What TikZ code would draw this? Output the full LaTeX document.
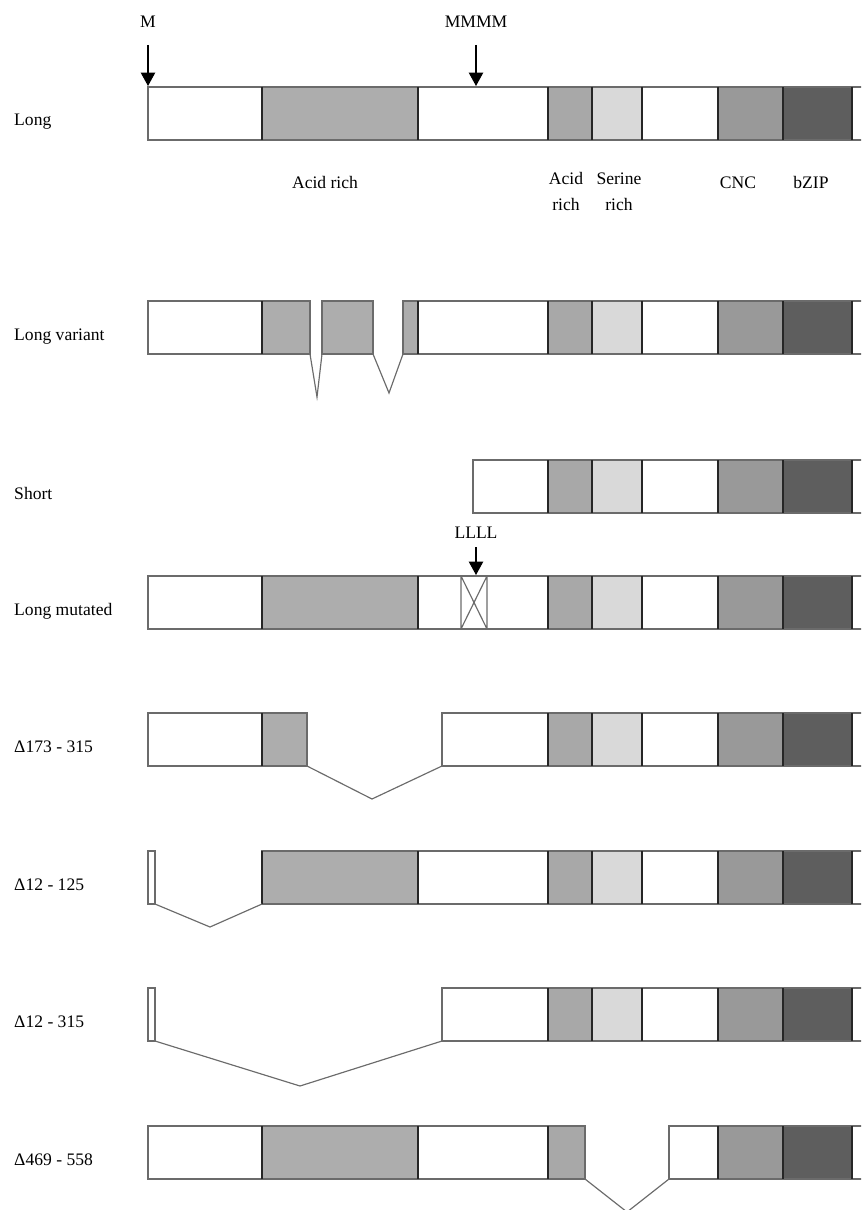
\documentclass[tikz,border=0pt]{standalone}
\usepackage{fontspec}
\setmainfont{Liberation Serif}
\usetikzlibrary{arrows.meta}
\definecolor{acidbig}{gray}{0.68}
\definecolor{acid}{gray}{0.66}
\definecolor{serine}{gray}{0.85}
\definecolor{cnc}{gray}{0.60}
\definecolor{bzip}{gray}{0.37}
\definecolor{rim}{gray}{0.42}

\begin{document}
\begin{tikzpicture}[x=0.03cm,y=-0.03cm,
		frame/.style={draw=rim,line width=1pt},
		cut/.style={draw=black!85,line width=1.2pt},
		pin/.style={-{Triangle[length=4mm,width=4.3mm]},line width=1pt},
		lbl/.style={anchor=base west,inner sep=0pt,font=\fontsize{15}{18}\selectfont},
		tag/.style={anchor=base,inner sep=0pt,align=center,font=\fontsize{15}{22}\selectfont}]
			\useasboundingbox (0,0) rectangle (861,1210);
			\clip (0,0) rectangle (861,1210);
			\foreach \y in {87,301,460,576,713,851,988}{
				\fill[acid] (548,\y) rectangle (592,\y+53);
				\fill[serine] (592,\y) rectangle (642,\y+53);
				\fill[cnc] (718,\y) rectangle (783,\y+53);
				\fill[bzip] (783,\y) rectangle (852,\y+53);
			}
			\fill[acidbig] (262,87) rectangle (418,140);
			\fill[acidbig] (262,301) rectangle (310,354) (322,301) rectangle (373,354) (403,301) rectangle (418,354);
			\fill[acidbig] (262,576) rectangle (418,629);
			\fill[acidbig] (262,713) rectangle (307,766);
			\fill[acidbig] (262,851) rectangle (418,904);
			\fill[acidbig] (262,1126) rectangle (418,1179);
			\fill[acid] (548,1126) rectangle (585,1179);
			\fill[cnc] (718,1126) rectangle (783,1179);
			\fill[bzip] (783,1126) rectangle (852,1179);
			\draw[frame] (148,87) rectangle (870,140);
			\draw[frame] (148,301) rectangle (310,354) (322,301) rectangle (373,354) (403,301) rectangle (870,354);
			\draw[frame] (473,460) rectangle (870,513);
			\draw[frame] (148,576) rectangle (870,629);
			\draw[frame] (461,576) rectangle (487,629) (461,576) -- (487,629) (487,576) -- (461,629);
			\draw[frame] (148,713) rectangle (307,766) (442,713) rectangle (870,766);
			\draw[frame] (148,851) rectangle (155,904) (262,851) rectangle (870,904);
			\draw[frame] (148,988) rectangle (155,1041) (442,988) rectangle (870,1041);
			\draw[frame] (148,1126) rectangle (585,1179) (669,1126) rectangle (870,1179);
			\foreach \y in {87,301,460,576,713,851,988}
				\foreach \x in {548,592,642,718,783,852}
					\draw[cut] (\x,\y) -- ++(0,53);
			\foreach \y in {87,301,576,851}
				\draw[cut] (262,\y) -- ++(0,53) (418,\y) -- ++(0,53);
			\draw[cut] (262,713) -- ++(0,53);
			\foreach \x in {262,418,548,718,783,852}
				\draw[cut] (\x,1126) -- ++(0,53);
			\coordinate (lv-a) at (310,354);
			\coordinate (lv-b) at (317,397);
			\coordinate (lv-c) at (322,354);
			\coordinate (lv-d) at (373,354);
			\coordinate (lv-e) at (389,393);
			\coordinate (lv-f) at (403,354);
			\draw[frame] (lv-a) -- (lv-b) -- (lv-c) (lv-d) -- (lv-e) -- (lv-f);
			\coordinate (da-a) at (307,766);
			\coordinate (da-b) at (372,799);
			\coordinate (da-c) at (442,766);
			\draw[frame] (da-a) -- (da-b) -- (da-c);
			\coordinate (db-a) at (155,904);
			\coordinate (db-b) at (210,927);
			\coordinate (db-c) at (262,904);
			\draw[frame] (db-a) -- (db-b) -- (db-c);
			\coordinate (dc-a) at (155,1041);
			\coordinate (dc-b) at (300,1086);
			\coordinate (dc-c) at (442,1041);
			\draw[frame] (dc-a) -- (dc-b) -- (dc-c);
			\coordinate (dd-a) at (585,1179);
			\coordinate (dd-b) at (627,1212);
			\coordinate (dd-c) at (669,1179);
			\draw[frame] (dd-a) -- (dd-b) -- (dd-c);
			\node[tag] (m) at (148,28) {M};
			\node[tag] (mmmm) at (476,28) {MMMM};
			\node[tag] (llll) at (476,538) {LLLL};
			\coordinate (m-top) at (148,45);
			\coordinate (m-tip) at (148,86);
			\coordinate (mmmm-top) at (476,45);
			\coordinate (mmmm-tip) at (476,86);
			\coordinate (llll-top) at (476,547);
			\coordinate (llll-tip) at (476,575);
			\draw[pin] (m-top) -- (m-tip);
			\draw[pin] (mmmm-top) -- (mmmm-tip);
			\draw[pin] (llll-top) -- (llll-tip);
			\node[tag] (acidbig-lbl) at (325,188) {Acid rich};
			\node[tag] (acid-lbl) at (566,210) {Acid\\rich};
			\node[tag] (serine-lbl) at (619,210) {Serine\\rich};
			\node[tag] (cnc-lbl) at (738,188) {CNC};
			\node[tag] (bzip-lbl) at (811,188) {bZIP};
			\node[lbl] (long) at (14,126) {Long};
			\node[lbl] (long-var) at (14,340) {Long variant};
			\node[lbl] (short) at (14,499) {Short};
			\node[lbl] (long-mut) at (14,615) {Long mutated};
			\node[lbl] (del-a) at (14,752) {Δ173 - 315};
			\node[lbl] (del-b) at (14,890) {Δ12 - 125};
			\node[lbl] (del-c) at (14,1027) {Δ12 - 315};
			\node[lbl] (del-d) at (14,1165) {Δ469 - 558};
		\end{tikzpicture}
\end{document}
